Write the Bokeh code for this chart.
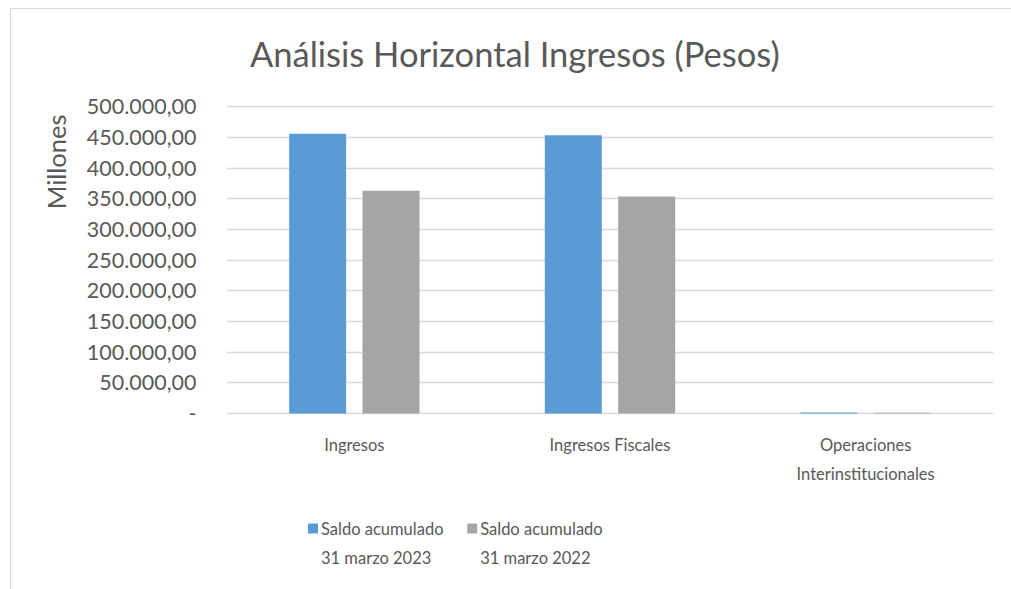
from bokeh.plotting import figure
from bokeh.layouts import column
from bokeh.models import (FactorRange, FixedTicker, Range1d, ColumnDataSource, Title)
from bokeh.core.properties import value
from bokeh.transform import dodge
from bokeh.embed import file_html
from bokeh.resources import INLINE

# ---- data ----
categories = ["Ingresos", "Ingresos Fiscales", "Operaciones\nInterinstitucionales"]
saldo_2023 = [456000, 453700, 1800]
saldo_2022 = [363200, 353900, 1400]
series_names = ["Saldo acumulado\n31 marzo 2023", "Saldo acumulado\n31 marzo 2022"]
series_colors = ["#5B9BD5", "#A5A5A5"]
tick_values = [0, 50000, 100000, 150000, 200000, 250000, 300000, 350000, 400000, 450000, 500000]
tick_labels = ["-", "50.000,00", "100.000,00", "150.000,00", "200.000,00", "250.000,00",
               "300.000,00", "350.000,00", "400.000,00", "450.000,00", "500.000,00"]
title_text = "Análisis Horizontal Ingresos (Pesos)"
y_label = "Millones"

FONT = "Lato"
TXT = "#595959"

# ---- header strip with the chart title (frame aligned with main frame; x in page pixels) ----
head = figure(width=1000, height=70, x_range=Range1d(226, 993), y_range=Range1d(70, 0),
              x_axis_type=None, y_axis_type=None, output_backend="svg",
              toolbar_location=None, min_border=0)
head.outline_line_color = None
head.grid.visible = False
head_src = ColumnDataSource(dict(x=[249.5], y=[23.5], t=[title_text]))
head.text(x="x", y="y", text="t", source=head_src, text_baseline="top",
          text_align="left", text_font=value(FONT), text_font_size="34.5px", text_color=TXT)

# ---- main chart ----
src = ColumnDataSource(dict(cat=categories, a=saldo_2023, b=saldo_2022))

p = figure(x_range=FactorRange(factors=categories), y_range=Range1d(-1500, 502000),
           width=1000, height=430, output_backend="svg", toolbar_location=None,
           min_border_left=215, min_border_right=18, min_border_top=26, min_border_bottom=95)

bw = 0.223
off = 0.1435
r1 = p.vbar(x=dodge("cat", -off, range=p.x_range), top="a", width=bw, source=src,
            fill_color=series_colors[0], line_color=None)
r2 = p.vbar(x=dodge("cat", off, range=p.x_range), top="b", width=bw, source=src,
            fill_color=series_colors[1], line_color=None)

p.outline_line_color = None
p.xgrid.grid_line_color = None
p.ygrid.grid_line_color = "#d9d9d9"
p.ygrid.grid_line_width = 1.3

yax = p.yaxis[0]
yax.ticker = FixedTicker(ticks=tick_values)
yax.major_label_overrides = dict(zip(tick_values, tick_labels))
yax.axis_line_color = None
yax.major_tick_line_color = None
yax.minor_tick_line_color = None
yax.major_label_standoff = 24
yax.major_label_text_font = FONT
yax.major_label_text_font_size = "21.5px"
yax.major_label_text_color = TXT

ytitle = Title(text=y_label, align="right", offset=9, standoff=26,
               text_font=FONT, text_font_size="25.5px", text_font_style="normal",
               text_color=TXT)
p.add_layout(ytitle, "left")

xax = p.xaxis[0]
xax.axis_line_color = None
xax.major_tick_line_color = None
xax.minor_tick_line_color = None
xax.major_label_standoff = 14
xax.major_label_text_font = FONT
xax.major_label_text_font_size = "16.5px"
xax.major_label_text_color = TXT
xax.major_label_text_line_height = 1.46

# ---- legend strip: its frame is aligned with the main frame; x measured in page pixels ----
leg = figure(width=1000, height=80, x_range=Range1d(226, 993), y_range=Range1d(80, 0),
             x_axis_type=None, y_axis_type=None, output_backend="svg",
             toolbar_location=None, min_border=0)
leg.outline_line_color = None
leg.grid.visible = False
item_x0, item_step = 307.5, 159.2
leg_src = ColumnDataSource(dict(
    gx=[item_x0 + i * item_step + 5 for i in range(len(series_names))],
    tx=[item_x0 + i * item_step + 13 for i in range(len(series_names))],
    gy=[19] * len(series_names), ty=[9] * len(series_names),
    name=series_names, color=series_colors))
leg.rect(x="gx", y="gy", width=10, height=10, width_units="screen", height_units="screen",
         fill_color="color", line_color=None, source=leg_src)
leg.text(x="tx", y="ty", text="name", source=leg_src, text_baseline="top", text_align="left",
         text_font=value(FONT), text_font_size="16.5px", text_color=TXT, text_line_height=1.46)

layout = column(head, p, leg, spacing=0)
layout.styles = {"margin-left": "10px", "margin-top": "8px",
                 "border-left": "1px solid #d9d9d9", "border-top": "1px solid #d9d9d9"}

open("out.html", "w").write(file_html(layout, INLINE))
